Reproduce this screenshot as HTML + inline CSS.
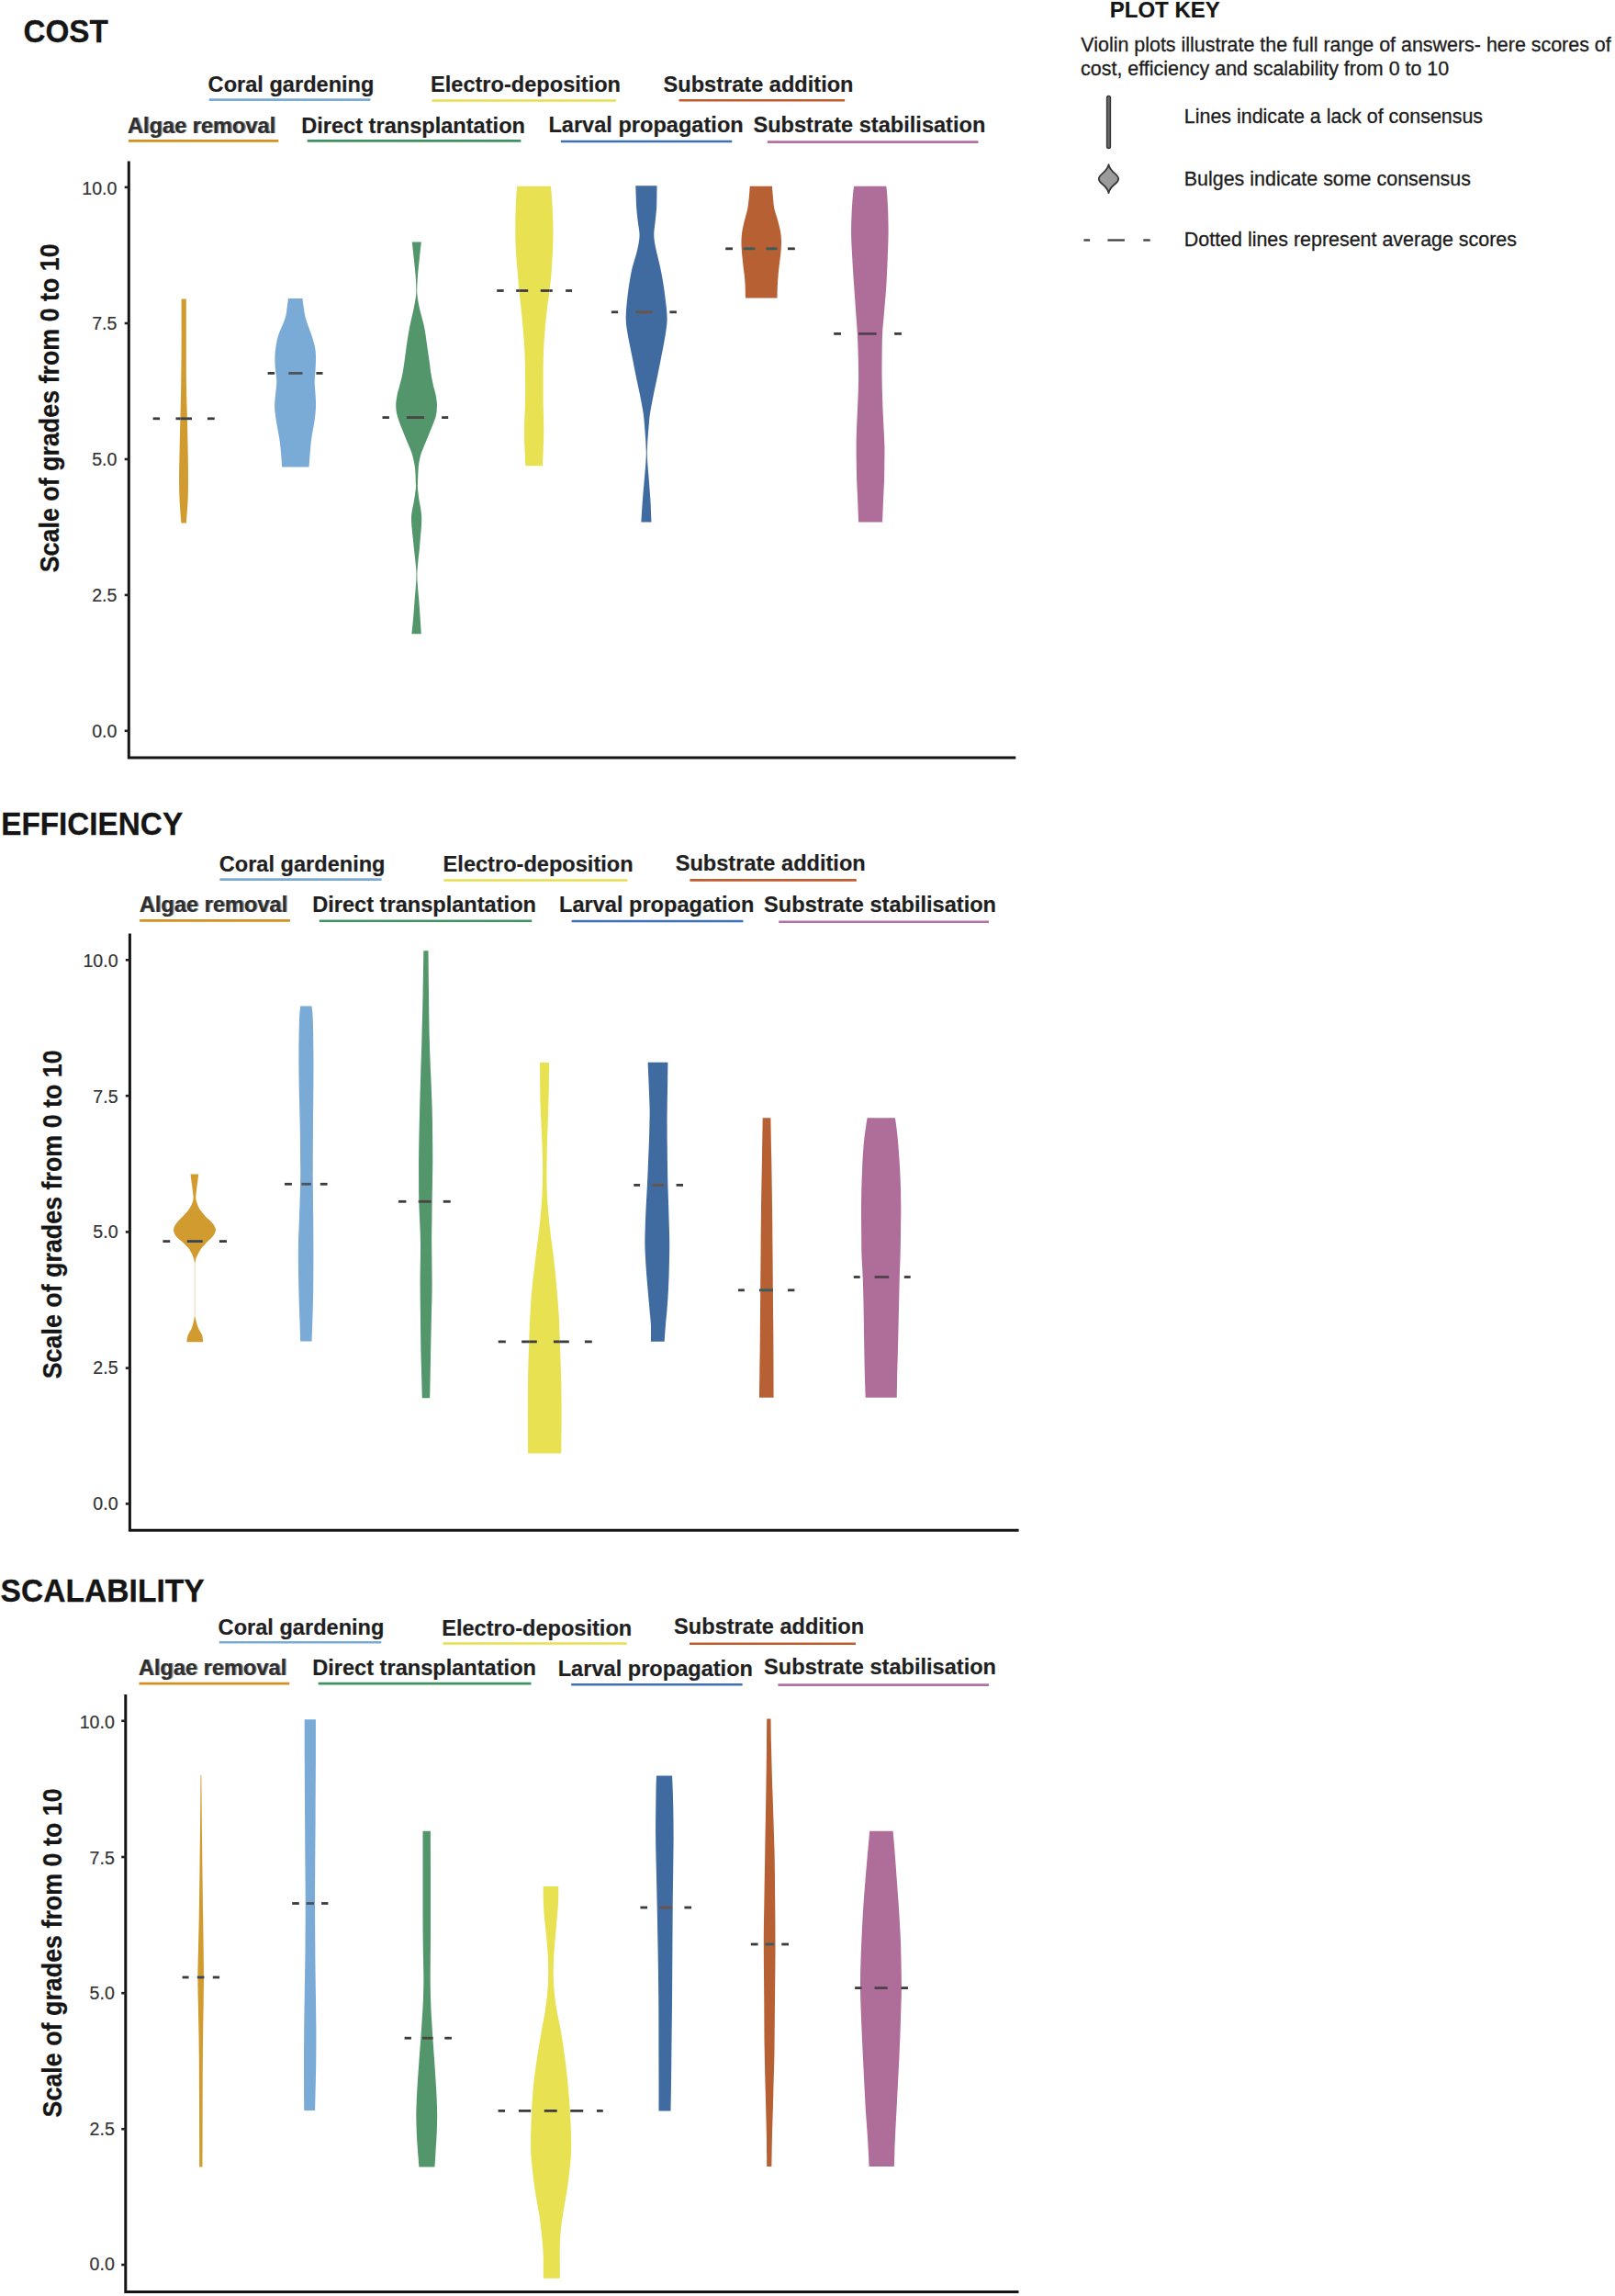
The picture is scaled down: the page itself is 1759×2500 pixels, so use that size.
<!DOCTYPE html>
<html lang="en">
<head>
<meta charset="utf-8">
<title>Violin plots: cost, efficiency and scalability</title>
<style>
html,body{margin:0;padding:0;background:#ffffff;}
body{width:1759px;height:2500px;overflow:hidden;font-family:'Liberation Sans', sans-serif;}
svg text{white-space:pre;}
</style>
</head>
<body>
<svg width="1759" height="2500" viewBox="0 0 1759 2500" style="display:block;font-family:'Liberation Sans', sans-serif">
<rect width="1759" height="2500" fill="#ffffff"/>
<g>
<text transform="translate(25.4 45.9) scale(1 1.035)" font-size="33.30" font-weight="700" fill="#151515" stroke="#151515" stroke-width="0.30">COST</text>
<text transform="translate(226.6 99.6) scale(1 1.035)" font-size="23.60" font-weight="700" fill="#1f1f1f" stroke="#1f1f1f" stroke-width="0.20">Coral gardening</text>
<line x1="227.7" y1="108.6" x2="403.5" y2="108.6" stroke="#7AABD6" stroke-width="2.6"/>
<text transform="translate(469.0 100.3) scale(1 1.035)" font-size="23.60" font-weight="700" fill="#1f1f1f" stroke="#1f1f1f" stroke-width="0.20">Electro-deposition</text>
<line x1="470.4" y1="109.5" x2="671.0" y2="109.5" stroke="#E9DF4E" stroke-width="2.6"/>
<text transform="translate(722.5 99.6) scale(1 1.035)" font-size="23.60" font-weight="700" fill="#1f1f1f" stroke="#1f1f1f" stroke-width="0.20">Substrate addition</text>
<line x1="739.5" y1="109.3" x2="920.1" y2="109.3" stroke="#C25C2E" stroke-width="2.6"/>
<text transform="translate(138.8 144.5) scale(1 1.035)" font-size="23.60" font-weight="700" fill="#2e2e2e" style="text-shadow:1.4px 0.4px 0.6px #909090">Algae removal</text>
<line x1="140.0" y1="153.4" x2="303.3" y2="153.4" stroke="#D3911F" stroke-width="2.6"/>
<text transform="translate(328.2 144.8) scale(1 1.035)" font-size="23.60" font-weight="700" fill="#1f1f1f" stroke="#1f1f1f" stroke-width="0.20">Direct transplantation</text>
<line x1="334.7" y1="153.4" x2="567.4" y2="153.4" stroke="#3F9362" stroke-width="2.6"/>
<text transform="translate(597.4 144.4) scale(1 1.035)" font-size="23.60" font-weight="700" fill="#1f1f1f" stroke="#1f1f1f" stroke-width="0.20">Larval propagation</text>
<line x1="610.8" y1="154.0" x2="797.3" y2="154.0" stroke="#3E70B8" stroke-width="2.6"/>
<text transform="translate(820.4 144.4) scale(1 1.035)" font-size="23.60" font-weight="700" fill="#1f1f1f" stroke="#1f1f1f" stroke-width="0.20">Substrate stabilisation</text>
<line x1="835.8" y1="154.6" x2="1065.5" y2="154.6" stroke="#B56FA5" stroke-width="2.6"/>
<path d="M140.3 175.4 V825.1 H1106.3" fill="none" stroke="#141414" stroke-width="3.0" stroke-linejoin="miter"/>
<line x1="135.7" y1="203.9" x2="140.3" y2="203.9" stroke="#222222" stroke-width="2.6"/>
<text transform="translate(127.4 211.7) scale(1 1.060)" font-size="19.60" text-anchor="end" fill="#333333" stroke="#333333" stroke-width="0.20">10.0</text>
<line x1="135.7" y1="352.0" x2="140.3" y2="352.0" stroke="#222222" stroke-width="2.6"/>
<text transform="translate(127.4 359.2) scale(1 1.060)" font-size="19.60" text-anchor="end" fill="#333333" stroke="#333333" stroke-width="0.20">7.5</text>
<line x1="135.7" y1="500.0" x2="140.3" y2="500.0" stroke="#222222" stroke-width="2.6"/>
<text transform="translate(127.4 507.0) scale(1 1.060)" font-size="19.60" text-anchor="end" fill="#333333" stroke="#333333" stroke-width="0.20">5.0</text>
<line x1="135.7" y1="647.9" x2="140.3" y2="647.9" stroke="#222222" stroke-width="2.6"/>
<text transform="translate(127.4 654.6) scale(1 1.060)" font-size="19.60" text-anchor="end" fill="#333333" stroke="#333333" stroke-width="0.20">2.5</text>
<line x1="135.7" y1="795.8" x2="140.3" y2="795.8" stroke="#222222" stroke-width="2.6"/>
<text transform="translate(127.4 802.5) scale(1 1.060)" font-size="19.60" text-anchor="end" fill="#333333" stroke="#333333" stroke-width="0.20">0.0</text>
<text transform="translate(64.3 444.3) rotate(-90) scale(1 1.070)" font-size="26.85" font-weight="700" text-anchor="middle" fill="#151515" stroke="#151515" stroke-width="0.25">Scale of grades from 0 to 10</text>
<path d="M197.6 325.5 L202.8 325.5 C202.8 334.6 202.8 364.2 202.8 380.0 C202.8 395.8 202.8 407.4 203.0 420.0 C203.2 432.6 203.6 444.1 203.9 455.8 C204.2 467.5 204.4 479.3 204.6 490.0 C204.8 500.7 205.0 510.8 205.0 520.0 C205.0 529.2 204.9 536.8 204.6 545.0 C204.2 553.2 203.2 565.3 202.9 569.4 L197.4 569.4 C197.1 565.3 196.0 553.2 195.6 545.0 C195.2 536.8 195.1 529.2 195.1 520.0 C195.1 510.8 195.4 500.7 195.6 490.0 C195.8 479.3 196.1 467.5 196.4 455.8 C196.7 444.1 197.0 432.6 197.2 420.0 C197.4 407.4 197.5 395.8 197.6 380.0 C197.7 364.2 197.6 334.6 197.6 325.5Z" fill="#D19B2F"/>
<path d="M313.9 325.1 L329.5 325.1 C329.7 326.8 330.2 331.4 330.8 335.0 C331.4 338.6 331.5 341.4 332.9 346.4 C334.3 351.4 337.7 359.7 339.4 365.0 C341.1 370.3 342.2 374.0 343.0 378.0 C343.8 382.0 343.9 385.2 344.0 389.2 C344.1 393.2 343.8 397.7 343.6 402.0 C343.4 406.3 342.7 410.5 342.7 415.2 C342.7 419.9 343.4 425.4 343.6 430.0 C343.8 434.6 344.2 438.3 344.0 443.0 C343.8 447.7 343.4 452.4 342.6 458.0 C341.8 463.6 340.2 470.8 339.4 476.5 C338.6 482.2 338.3 486.6 337.8 492.0 C337.3 497.4 336.8 505.8 336.6 508.6 L307.2 508.6 C307.0 505.8 306.4 497.4 305.9 492.0 C305.4 486.6 305.0 482.2 304.1 476.5 C303.2 470.8 301.6 463.6 300.8 458.0 C300.0 452.4 299.2 447.7 299.1 443.0 C299.0 438.3 299.6 434.6 300.0 430.0 C300.4 425.4 301.3 419.9 301.3 415.2 C301.3 410.5 300.2 406.3 299.9 402.0 C299.6 397.7 299.3 393.2 299.4 389.2 C299.5 385.2 299.8 382.0 300.4 378.0 C301.0 374.0 301.5 370.3 303.2 365.0 C304.9 359.7 309.0 351.4 310.6 346.4 C312.2 341.4 312.1 338.6 312.6 335.0 C313.2 331.4 313.7 326.8 313.9 325.1Z" fill="#7AABD6"/>
<path d="M448.8 263.6 L458.9 263.6 C458.5 266.7 457.4 275.9 456.8 282.0 C456.2 288.1 455.4 294.8 455.0 300.0 C454.6 305.2 454.4 309.3 454.3 313.0 C454.2 316.7 454.2 318.3 454.6 322.0 C455.0 325.7 455.6 329.4 456.8 335.0 C458.0 340.6 460.6 349.0 462.0 355.7 C463.4 362.4 464.1 368.8 465.0 375.0 C465.9 381.2 466.8 387.4 467.6 392.9 C468.4 398.4 468.8 403.4 469.6 408.0 C470.4 412.6 471.4 417.1 472.2 420.8 C473.0 424.5 474.0 426.9 474.6 430.0 C475.2 433.1 475.7 436.5 475.9 439.3 C476.1 442.1 475.9 444.5 475.7 447.0 C475.4 449.5 475.3 451.2 474.4 454.2 C473.5 457.2 471.8 461.3 470.4 465.0 C468.9 468.7 467.1 473.0 465.7 476.5 C464.3 480.0 463.0 482.9 461.8 486.0 C460.6 489.1 459.2 491.8 458.3 495.0 C457.4 498.2 456.7 501.9 456.2 505.0 C455.7 508.1 455.7 510.3 455.5 513.6 C455.3 516.9 455.1 521.9 455.0 525.0 C454.9 528.1 454.7 528.9 455.0 532.2 C455.3 535.5 456.0 541.2 456.6 545.0 C457.2 548.8 458.0 551.9 458.4 555.0 C458.8 558.1 459.1 560.5 459.2 563.8 C459.3 567.1 459.0 571.5 458.8 575.0 C458.6 578.5 458.2 581.3 457.9 585.0 C457.6 588.7 457.3 593.0 456.9 597.2 C456.5 601.4 455.9 606.0 455.5 610.0 C455.1 614.0 454.7 617.7 454.5 621.0 C454.3 624.3 454.3 626.8 454.4 630.0 C454.5 633.2 454.8 635.8 455.1 640.0 C455.4 644.2 456.0 649.7 456.4 655.0 C456.8 660.3 457.2 666.1 457.6 672.0 C458.0 677.9 458.6 687.2 458.8 690.3 L448.4 690.3 C448.7 687.2 449.7 677.9 450.2 672.0 C450.7 666.1 451.1 660.3 451.5 655.0 C451.9 649.7 452.4 644.2 452.7 640.0 C453.0 635.8 453.3 633.2 453.4 630.0 C453.5 626.8 453.5 624.3 453.3 621.0 C453.1 617.7 452.7 614.0 452.3 610.0 C451.9 606.0 451.3 601.4 450.9 597.2 C450.4 593.0 450.0 588.7 449.6 585.0 C449.2 581.3 448.9 578.5 448.6 575.0 C448.3 571.5 447.9 567.1 448.0 563.8 C448.1 560.5 448.5 558.1 449.0 555.0 C449.5 551.9 450.4 548.8 451.0 545.0 C451.6 541.2 452.5 535.5 452.8 532.2 C453.1 528.9 452.9 528.1 452.8 525.0 C452.7 521.9 452.6 516.9 452.3 513.6 C452.1 510.3 451.9 508.1 451.3 505.0 C450.8 501.9 449.9 498.2 449.0 495.0 C448.1 491.8 446.8 489.1 445.6 486.0 C444.4 482.9 443.0 480.0 441.6 476.5 C440.2 473.0 438.4 468.7 437.0 465.0 C435.6 461.3 434.1 457.2 433.2 454.2 C432.3 451.2 431.9 449.5 431.6 447.0 C431.3 444.5 431.1 442.1 431.3 439.3 C431.5 436.5 432.0 433.1 432.6 430.0 C433.2 426.9 434.1 424.5 435.0 420.8 C435.9 417.1 437.3 412.6 438.2 408.0 C439.1 403.4 439.8 398.4 440.6 392.9 C441.4 387.4 442.1 381.2 443.0 375.0 C443.9 368.8 444.9 362.4 446.2 355.7 C447.5 349.0 449.7 340.6 450.8 335.0 C451.9 329.4 452.6 325.7 453.0 322.0 C453.4 318.3 453.4 316.7 453.3 313.0 C453.2 309.3 453.0 305.2 452.6 300.0 C452.2 294.8 451.4 288.1 450.8 282.0 C450.2 275.9 449.1 266.7 448.8 263.6Z" fill="#53966C"/>
<path d="M563.2 202.8 L599.9 202.8 C600.0 204.3 600.5 207.5 600.8 212.0 C601.1 216.5 601.6 222.9 601.9 230.0 C602.2 237.1 602.5 246.8 602.5 254.3 C602.5 261.8 602.3 267.2 601.9 275.0 C601.5 282.8 600.9 293.9 600.3 300.8 C599.7 307.7 599.4 308.8 598.5 316.5 C597.6 324.2 595.8 335.9 594.7 347.2 C593.6 358.5 592.5 370.4 592.0 384.3 C591.5 398.2 591.6 416.9 591.6 430.8 C591.6 444.7 592.3 458.0 592.3 467.9 C592.3 477.8 591.9 483.4 591.7 490.0 C591.5 496.6 591.1 504.4 591.0 507.3 L572.4 507.3 C572.3 504.4 571.8 496.6 571.6 490.0 C571.4 483.4 570.9 477.8 571.0 467.9 C571.1 458.0 572.0 444.7 572.1 430.8 C572.2 416.9 572.1 398.2 571.5 384.3 C570.9 370.4 569.7 358.5 568.7 347.2 C567.7 335.9 566.2 324.2 565.4 316.5 C564.6 308.8 564.7 307.7 564.1 300.8 C563.5 293.9 562.5 282.8 562.0 275.0 C561.5 267.2 561.4 261.8 561.3 254.3 C561.2 246.8 561.4 237.1 561.6 230.0 C561.8 222.9 562.1 216.5 562.4 212.0 C562.7 207.5 563.1 204.3 563.2 202.8Z" fill="#E8E152"/>
<path d="M692.3 202.3 L715.5 202.3 C715.5 203.9 715.5 208.0 715.4 212.0 C715.3 216.0 715.4 221.7 715.1 226.4 C714.8 231.1 714.3 235.3 713.8 240.0 C713.3 244.7 712.4 250.1 712.3 254.3 C712.2 258.5 712.6 261.1 713.2 265.0 C713.8 268.9 715.0 273.6 716.0 278.0 C717.0 282.4 718.2 287.0 719.2 291.5 C720.2 296.0 721.0 300.4 721.8 305.0 C722.6 309.6 723.3 314.6 723.9 319.3 C724.5 324.0 725.1 328.4 725.6 333.0 C726.1 337.6 726.6 342.7 726.6 347.2 C726.6 351.7 726.0 355.4 725.4 360.0 C724.8 364.6 723.9 369.5 722.9 375.0 C721.9 380.5 720.6 386.8 719.4 393.0 C718.2 399.2 716.8 406.0 715.5 412.2 C714.2 418.4 713.0 423.8 711.8 430.0 C710.6 436.2 709.0 443.9 708.1 449.4 C707.2 454.9 707.1 458.7 706.7 463.0 C706.3 467.3 706.0 471.3 705.7 475.0 C705.4 478.7 705.2 482.0 705.1 485.0 C705.0 488.0 704.8 490.3 704.8 493.0 C704.8 495.7 704.9 497.7 705.1 501.0 C705.3 504.3 705.6 508.5 706.0 513.0 C706.4 517.5 706.8 522.5 707.2 528.0 C707.6 533.5 708.1 539.2 708.5 546.0 C708.9 552.8 709.3 564.8 709.5 568.5 L698.4 568.5 C698.6 564.8 699.3 552.8 699.8 546.0 C700.3 539.2 700.8 533.5 701.3 528.0 C701.8 522.5 702.2 517.5 702.6 513.0 C703.0 508.5 703.3 504.3 703.5 501.0 C703.7 497.7 703.8 495.7 703.8 493.0 C703.8 490.3 703.6 488.0 703.5 485.0 C703.4 482.0 703.1 478.7 702.9 475.0 C702.6 471.3 702.4 467.3 702.0 463.0 C701.6 458.7 701.4 454.9 700.6 449.4 C699.8 443.9 698.2 436.2 697.0 430.0 C695.8 423.8 694.5 418.4 693.2 412.2 C691.9 406.0 690.6 399.2 689.4 393.0 C688.2 386.8 686.9 380.5 685.8 375.0 C684.7 369.5 683.7 364.6 683.0 360.0 C682.3 355.4 681.8 351.7 681.7 347.2 C681.6 342.7 682.0 337.6 682.4 333.0 C682.8 328.4 683.3 324.0 683.9 319.3 C684.5 314.6 685.2 309.6 686.0 305.0 C686.8 300.4 687.5 296.0 688.6 291.5 C689.7 287.0 691.4 282.4 692.6 278.0 C693.8 273.6 695.0 268.9 695.6 265.0 C696.2 261.1 696.7 258.5 696.5 254.3 C696.3 250.1 695.1 244.7 694.6 240.0 C694.1 235.3 693.5 231.1 693.2 226.4 C692.9 221.7 692.8 216.0 692.6 212.0 C692.5 208.0 692.3 203.9 692.3 202.3Z" fill="#3F6BA1"/>
<path d="M816.8 202.8 L840.9 202.8 C841.1 204.7 841.5 210.1 841.9 214.0 C842.3 217.9 842.5 222.7 843.2 226.4 C843.9 230.1 845.1 232.9 846.0 236.0 C846.9 239.1 847.7 242.2 848.4 245.0 C849.1 247.8 849.8 250.2 850.2 253.0 C850.6 255.8 850.9 258.5 851.0 261.7 C851.1 264.9 850.9 268.6 850.7 272.0 C850.5 275.4 850.0 278.8 849.6 282.0 C849.2 285.2 848.7 288.5 848.4 291.5 C848.1 294.5 847.9 296.9 847.6 300.0 C847.4 303.1 847.1 305.9 846.9 310.0 C846.7 314.1 846.6 322.1 846.5 324.5 L812.0 324.5 C811.9 322.1 811.8 314.1 811.6 310.0 C811.4 305.9 811.1 303.1 810.8 300.0 C810.5 296.9 810.1 294.5 809.7 291.5 C809.4 288.5 809.0 285.2 808.7 282.0 C808.4 278.8 808.0 275.4 807.8 272.0 C807.6 268.6 807.4 264.9 807.5 261.7 C807.6 258.5 807.8 255.8 808.2 253.0 C808.6 250.2 809.1 247.8 809.7 245.0 C810.3 242.2 811.2 239.1 812.0 236.0 C812.8 232.9 813.8 230.1 814.4 226.4 C815.0 222.7 815.5 217.9 815.9 214.0 C816.3 210.1 816.6 204.7 816.8 202.8Z" fill="#B66034"/>
<path d="M930.1 202.8 L965.4 202.8 C965.5 204.3 965.9 207.5 966.2 212.0 C966.5 216.5 967.0 222.9 967.2 230.0 C967.4 237.1 967.7 246.0 967.6 254.3 C967.5 262.6 967.2 270.7 966.8 280.0 C966.4 289.3 966.0 300.0 965.4 310.0 C964.8 320.0 963.7 331.2 963.0 340.0 C962.3 348.8 961.5 354.7 961.1 363.0 C960.7 371.3 960.7 381.8 960.6 390.0 C960.5 398.2 960.5 405.5 960.6 412.2 C960.7 418.9 960.8 423.8 961.0 430.0 C961.2 436.2 961.4 443.1 961.7 449.4 C962.0 455.7 962.3 461.8 962.6 468.0 C962.9 474.2 963.3 480.3 963.4 486.5 C963.5 492.7 963.4 498.8 963.3 505.0 C963.2 511.2 963.2 517.0 963.0 523.7 C962.8 530.4 962.3 537.5 962.0 545.0 C961.7 552.5 961.2 564.7 961.1 568.6 L935.1 568.6 C935.0 564.7 934.5 552.5 934.2 545.0 C933.9 537.5 933.4 530.4 933.2 523.7 C933.0 517.0 932.9 511.2 932.8 505.0 C932.7 498.8 932.6 492.7 932.6 486.5 C932.6 480.3 932.8 474.2 933.0 468.0 C933.2 461.8 933.5 455.7 933.8 449.4 C934.1 443.1 934.4 436.2 934.6 430.0 C934.8 423.8 935.1 418.9 935.1 412.2 C935.1 405.5 935.0 398.2 934.8 390.0 C934.6 381.8 934.2 371.3 933.8 363.0 C933.4 354.7 932.8 348.8 932.2 340.0 C931.6 331.2 930.8 320.0 930.1 310.0 C929.4 300.0 928.7 289.3 928.2 280.0 C927.7 270.7 927.2 262.6 927.1 254.3 C927.0 246.0 927.4 237.1 927.7 230.0 C928.0 222.9 928.6 216.5 929.0 212.0 C929.4 207.5 929.9 204.3 930.1 202.8Z" fill="#AE6E99"/>
<line x1="166.6" y1="455.8" x2="174.1" y2="455.8" stroke="#3b3b3b" stroke-width="2.8"/>
<line x1="191.5" y1="455.8" x2="196.4" y2="455.8" stroke="#3b3b3b" stroke-width="2.8"/>
<line x1="196.4" y1="455.8" x2="203.9" y2="455.8" stroke="#39445a" stroke-width="2.8"/>
<line x1="203.9" y1="455.8" x2="209.0" y2="455.8" stroke="#3b3b3b" stroke-width="2.8"/>
<line x1="225.9" y1="455.8" x2="233.7" y2="455.8" stroke="#3b3b3b" stroke-width="2.8"/>
<line x1="291.6" y1="406.4" x2="299.1" y2="406.4" stroke="#3b3b3b" stroke-width="2.8"/>
<line x1="314.3" y1="406.4" x2="329.5" y2="406.4" stroke="#4f5258" stroke-width="2.8"/>
<line x1="344.4" y1="406.4" x2="351.5" y2="406.4" stroke="#3b3b3b" stroke-width="2.8"/>
<line x1="416.5" y1="454.6" x2="423.9" y2="454.6" stroke="#3b3b3b" stroke-width="2.8"/>
<line x1="442.9" y1="454.6" x2="462.0" y2="454.6" stroke="#474640" stroke-width="2.8"/>
<line x1="481.1" y1="454.6" x2="488.2" y2="454.6" stroke="#3b3b3b" stroke-width="2.8"/>
<line x1="541.2" y1="316.5" x2="548.7" y2="316.5" stroke="#3b3b3b" stroke-width="2.8"/>
<line x1="562.2" y1="316.5" x2="565.4" y2="316.5" stroke="#3b3b3b" stroke-width="2.8"/>
<line x1="565.4" y1="316.5" x2="575.2" y2="316.5" stroke="#3f3a46" stroke-width="2.8"/>
<line x1="588.8" y1="316.5" x2="598.5" y2="316.5" stroke="#3f3a46" stroke-width="2.8"/>
<line x1="598.5" y1="316.5" x2="601.8" y2="316.5" stroke="#3b3b3b" stroke-width="2.8"/>
<line x1="616.1" y1="316.5" x2="623.0" y2="316.5" stroke="#3b3b3b" stroke-width="2.8"/>
<line x1="665.9" y1="339.8" x2="673.1" y2="339.8" stroke="#3b3b3b" stroke-width="2.8"/>
<line x1="692.3" y1="339.8" x2="710.8" y2="339.8" stroke="#6a5447" stroke-width="2.8"/>
<line x1="729.4" y1="339.8" x2="736.9" y2="339.8" stroke="#3b3b3b" stroke-width="2.8"/>
<line x1="790.2" y1="270.8" x2="798.0" y2="270.8" stroke="#3b3b3b" stroke-width="2.8"/>
<line x1="809.7" y1="270.8" x2="822.4" y2="270.8" stroke="#3a5c60" stroke-width="2.8"/>
<line x1="834.4" y1="270.8" x2="846.5" y2="270.8" stroke="#3a5c60" stroke-width="2.8"/>
<line x1="858.0" y1="270.8" x2="865.8" y2="270.8" stroke="#3b3b3b" stroke-width="2.8"/>
<line x1="908.2" y1="363.4" x2="916.0" y2="363.4" stroke="#3b3b3b" stroke-width="2.8"/>
<line x1="935.1" y1="363.4" x2="954.6" y2="363.4" stroke="#50404e" stroke-width="2.8"/>
<line x1="974.1" y1="363.4" x2="981.9" y2="363.4" stroke="#3b3b3b" stroke-width="2.8"/>
</g>
<g>
<text transform="translate(1.2 909.4) scale(1 1.035)" font-size="33.30" font-weight="700" fill="#151515" stroke="#151515" stroke-width="0.30">EFFICIENCY</text>
<text transform="translate(238.7 948.6) scale(1 1.035)" font-size="23.60" font-weight="700" fill="#1f1f1f" stroke="#1f1f1f" stroke-width="0.20">Coral gardening</text>
<line x1="239.4" y1="957.6" x2="415.6" y2="957.6" stroke="#7AABD6" stroke-width="2.6"/>
<text transform="translate(482.6 949.1) scale(1 1.035)" font-size="23.60" font-weight="700" fill="#1f1f1f" stroke="#1f1f1f" stroke-width="0.20">Electro-deposition</text>
<line x1="483.3" y1="958.5" x2="683.5" y2="958.5" stroke="#E9DF4E" stroke-width="2.6"/>
<text transform="translate(735.7 948.2) scale(1 1.035)" font-size="23.60" font-weight="700" fill="#1f1f1f" stroke="#1f1f1f" stroke-width="0.20">Substrate addition</text>
<line x1="751.4" y1="958.4" x2="932.8" y2="958.4" stroke="#C25C2E" stroke-width="2.6"/>
<text transform="translate(151.7 992.8) scale(1 1.035)" font-size="23.60" font-weight="700" fill="#2e2e2e" style="text-shadow:1.4px 0.4px 0.6px #909090">Algae removal</text>
<line x1="152.1" y1="1002.4" x2="316.0" y2="1002.4" stroke="#D3911F" stroke-width="2.6"/>
<text transform="translate(340.2 992.8) scale(1 1.035)" font-size="23.60" font-weight="700" fill="#1f1f1f" stroke="#1f1f1f" stroke-width="0.20">Direct transplantation</text>
<line x1="347.7" y1="1002.8" x2="579.3" y2="1002.8" stroke="#3F9362" stroke-width="2.6"/>
<text transform="translate(609.0 993.2) scale(1 1.035)" font-size="23.60" font-weight="700" fill="#1f1f1f" stroke="#1f1f1f" stroke-width="0.20">Larval propagation</text>
<line x1="622.6" y1="1003.0" x2="809.4" y2="1003.0" stroke="#3E70B8" stroke-width="2.6"/>
<text transform="translate(832.1 992.8) scale(1 1.035)" font-size="23.60" font-weight="700" fill="#1f1f1f" stroke="#1f1f1f" stroke-width="0.20">Substrate stabilisation</text>
<line x1="848.2" y1="1003.8" x2="1077.0" y2="1003.8" stroke="#B56FA5" stroke-width="2.6"/>
<path d="M141.4 1016.6 V1666.3 H1109.6" fill="none" stroke="#141414" stroke-width="3.0" stroke-linejoin="miter"/>
<line x1="136.8" y1="1045.3" x2="141.4" y2="1045.3" stroke="#222222" stroke-width="2.6"/>
<text transform="translate(128.6 1053.4) scale(1 1.060)" font-size="19.60" text-anchor="end" fill="#333333" stroke="#333333" stroke-width="0.20">10.0</text>
<line x1="136.8" y1="1193.2" x2="141.4" y2="1193.2" stroke="#222222" stroke-width="2.6"/>
<text transform="translate(128.6 1200.5) scale(1 1.060)" font-size="19.60" text-anchor="end" fill="#333333" stroke="#333333" stroke-width="0.20">7.5</text>
<line x1="136.8" y1="1341.4" x2="141.4" y2="1341.4" stroke="#222222" stroke-width="2.6"/>
<text transform="translate(128.6 1348.4) scale(1 1.060)" font-size="19.60" text-anchor="end" fill="#333333" stroke="#333333" stroke-width="0.20">5.0</text>
<line x1="136.8" y1="1489.6" x2="141.4" y2="1489.6" stroke="#222222" stroke-width="2.6"/>
<text transform="translate(128.6 1496.3) scale(1 1.060)" font-size="19.60" text-anchor="end" fill="#333333" stroke="#333333" stroke-width="0.20">2.5</text>
<line x1="136.8" y1="1637.4" x2="141.4" y2="1637.4" stroke="#222222" stroke-width="2.6"/>
<text transform="translate(128.6 1644.3) scale(1 1.060)" font-size="19.60" text-anchor="end" fill="#333333" stroke="#333333" stroke-width="0.20">0.0</text>
<text transform="translate(66.6 1322.3) rotate(-90) scale(1 1.070)" font-size="26.85" font-weight="700" text-anchor="middle" fill="#151515" stroke="#151515" stroke-width="0.25">Scale of grades from 0 to 10</text>
<path d="M207.5 1278.6 L216.2 1278.6 C216.0 1280.0 215.6 1284.1 215.2 1287.0 C214.8 1289.9 214.3 1293.1 214.0 1296.0 C213.7 1298.9 213.2 1302.3 213.3 1304.6 C213.4 1306.9 214.0 1308.2 214.6 1310.0 C215.2 1311.8 216.1 1314.0 217.0 1315.7 C217.9 1317.4 219.1 1318.5 220.2 1320.0 C221.3 1321.5 222.6 1323.1 223.8 1324.4 C225.0 1325.7 226.3 1326.8 227.6 1328.0 C228.8 1329.2 230.3 1330.5 231.3 1331.8 C232.3 1333.0 233.2 1334.2 233.8 1335.5 C234.4 1336.8 235.0 1338.0 235.0 1339.3 C235.0 1340.5 234.4 1341.8 233.8 1343.0 C233.2 1344.2 232.6 1345.3 231.3 1346.7 C230.1 1348.1 227.7 1350.1 226.3 1351.6 C224.9 1353.1 223.9 1354.2 222.8 1355.5 C221.7 1356.8 220.5 1357.8 219.5 1359.1 C218.5 1360.3 217.7 1361.8 217.0 1363.0 C216.3 1364.2 215.8 1365.2 215.2 1366.5 C214.6 1367.8 213.6 1369.5 213.2 1371.0 C212.8 1372.5 212.6 1374.5 212.5 1375.2 L211.9 1375.2 C211.8 1374.5 211.6 1372.5 211.2 1371.0 C210.8 1369.5 210.2 1367.8 209.6 1366.5 C209.0 1365.2 208.5 1364.2 207.8 1363.0 C207.1 1361.8 206.3 1360.3 205.3 1359.1 C204.3 1357.8 203.1 1356.8 201.8 1355.5 C200.6 1354.2 199.4 1353.1 197.8 1351.6 C196.2 1350.1 193.6 1348.1 192.3 1346.7 C191.0 1345.3 190.6 1344.2 190.0 1343.0 C189.4 1341.8 188.9 1340.5 188.9 1339.3 C188.9 1338.0 189.4 1336.8 190.0 1335.5 C190.6 1334.2 191.4 1333.0 192.3 1331.8 C193.2 1330.5 194.5 1329.2 195.6 1328.0 C196.7 1326.8 197.8 1325.7 199.1 1324.4 C200.4 1323.1 202.0 1321.5 203.2 1320.0 C204.4 1318.5 205.5 1317.4 206.5 1315.7 C207.5 1314.0 208.7 1311.8 209.4 1310.0 C210.1 1308.2 210.5 1306.9 210.6 1304.6 C210.7 1302.3 210.1 1298.9 209.8 1296.0 C209.5 1293.1 209.0 1289.9 208.6 1287.0 C208.2 1284.1 207.7 1280.0 207.5 1278.6Z" fill="#D19B2F"/>
<path d="M211.9 1433.4 L212.5 1433.4 C212.8 1434.5 213.4 1437.9 214.0 1440.0 C214.6 1442.1 215.1 1444.1 215.8 1445.8 C216.5 1447.5 217.3 1448.8 218.0 1450.0 C218.7 1451.2 219.4 1452.0 219.9 1453.2 C220.4 1454.4 220.6 1455.7 220.8 1457.0 C221.0 1458.3 221.1 1460.5 221.1 1461.2 L203.4 1461.2 C203.5 1460.5 203.6 1458.3 203.9 1457.0 C204.2 1455.7 204.5 1454.4 205.0 1453.2 C205.5 1452.0 206.1 1451.2 206.8 1450.0 C207.5 1448.8 208.4 1447.5 209.0 1445.8 C209.6 1444.1 210.1 1442.1 210.6 1440.0 C211.1 1437.9 211.7 1434.5 211.9 1433.4Z" fill="#D19B2F"/>
<line x1="212.2" y1="1375.0" x2="212.2" y2="1433.6" stroke="#E9DEC3" stroke-width="1.1"/>
<path d="M327.2 1095.6 L339.6 1095.6 C339.8 1098.1 340.5 1102.4 340.8 1110.6 C341.1 1118.8 341.3 1133.3 341.4 1144.6 C341.5 1155.9 341.5 1165.3 341.4 1178.5 C341.3 1191.7 341.1 1208.7 341.0 1223.8 C340.9 1238.9 340.8 1258.1 340.8 1269.1 C340.8 1280.0 340.7 1280.0 340.8 1289.5 C340.9 1299.0 341.1 1314.1 341.2 1325.8 C341.3 1337.5 341.4 1346.5 341.4 1359.7 C341.4 1372.9 341.4 1391.8 341.2 1405.0 C341.0 1418.2 340.6 1429.8 340.3 1439.0 C340.0 1448.2 339.7 1456.9 339.6 1460.5 L327.2 1460.5 C327.1 1456.9 326.8 1448.2 326.5 1439.0 C326.2 1429.8 325.7 1418.2 325.4 1405.0 C325.1 1391.8 324.8 1372.9 324.9 1359.7 C325.0 1346.5 325.6 1337.5 326.0 1325.8 C326.4 1314.1 326.9 1299.0 327.1 1289.5 C327.3 1280.0 327.3 1280.0 327.2 1269.1 C327.1 1258.1 327.0 1238.9 326.7 1223.8 C326.4 1208.7 325.8 1191.7 325.6 1178.5 C325.4 1165.3 325.3 1155.9 325.4 1144.6 C325.5 1133.3 325.7 1118.8 326.0 1110.6 C326.3 1102.4 327.0 1098.1 327.2 1095.6Z" fill="#7AABD6"/>
<path d="M461.3 1035.2 L466.5 1035.2 C466.6 1042.7 466.8 1064.0 467.0 1080.0 C467.2 1096.0 467.4 1116.5 467.8 1131.5 C468.2 1146.5 468.7 1157.6 469.2 1170.0 C469.7 1182.4 470.3 1195.0 470.6 1205.8 C470.9 1216.6 471.0 1225.7 471.1 1235.0 C471.2 1244.3 471.3 1253.2 471.3 1261.5 C471.3 1269.8 471.1 1277.2 471.0 1285.0 C470.9 1292.8 470.7 1300.5 470.6 1308.0 C470.5 1315.5 470.5 1322.3 470.4 1330.0 C470.3 1337.7 470.2 1342.7 470.2 1354.4 C470.2 1366.1 470.7 1386.1 470.6 1400.0 C470.5 1413.9 470.1 1425.6 469.8 1438.0 C469.6 1450.4 469.3 1464.0 469.1 1474.3 C468.9 1484.6 468.8 1492.0 468.6 1500.0 C468.5 1508.0 468.3 1518.5 468.2 1522.2 L459.8 1522.2 C459.7 1518.5 459.4 1508.0 459.2 1500.0 C459.0 1492.0 458.7 1484.6 458.5 1474.3 C458.3 1464.0 458.1 1450.4 458.0 1438.0 C457.9 1425.6 457.6 1413.9 457.6 1400.0 C457.6 1386.1 458.1 1366.1 458.0 1354.4 C457.9 1342.7 457.5 1337.7 457.2 1330.0 C456.9 1322.3 456.5 1315.5 456.3 1308.0 C456.1 1300.5 456.1 1292.8 456.1 1285.0 C456.1 1277.2 456.0 1269.8 456.1 1261.5 C456.2 1253.2 456.3 1244.3 456.5 1235.0 C456.7 1225.7 456.9 1216.6 457.2 1205.8 C457.5 1195.0 457.8 1182.4 458.2 1170.0 C458.6 1157.6 459.0 1146.5 459.4 1131.5 C459.8 1116.5 460.3 1096.0 460.6 1080.0 C460.9 1064.0 461.2 1042.7 461.3 1035.2Z" fill="#53966C"/>
<path d="M588.1 1157.1 L598.2 1157.1 C598.2 1160.9 598.0 1172.8 597.9 1180.0 C597.8 1187.2 597.6 1193.3 597.4 1200.0 C597.2 1206.7 597.0 1213.3 596.8 1220.0 C596.6 1226.7 596.2 1233.3 596.0 1240.0 C595.8 1246.7 595.7 1253.3 595.6 1260.0 C595.5 1266.7 595.4 1273.3 595.4 1280.0 C595.4 1286.7 595.5 1293.3 595.8 1300.0 C596.1 1306.7 596.6 1313.3 597.2 1320.0 C597.8 1326.7 598.4 1333.3 599.2 1340.0 C600.0 1346.7 601.0 1353.3 601.8 1360.0 C602.6 1366.7 603.5 1373.2 604.2 1380.0 C604.9 1386.8 605.5 1392.1 606.2 1400.5 C606.9 1408.9 608.0 1420.6 608.6 1430.6 C609.2 1440.6 609.4 1448.9 609.8 1460.6 C610.2 1472.3 610.9 1487.3 611.2 1500.7 C611.5 1514.1 611.6 1527.2 611.6 1540.8 C611.6 1554.4 611.4 1575.6 611.4 1582.6 L575.1 1582.6 C575.1 1575.6 574.9 1554.4 574.9 1540.8 C574.9 1527.2 574.9 1514.1 575.1 1500.7 C575.3 1487.3 575.9 1472.3 576.3 1460.6 C576.7 1448.9 576.9 1440.6 577.5 1430.6 C578.1 1420.6 578.9 1408.9 579.7 1400.5 C580.5 1392.1 581.3 1386.8 582.1 1380.0 C582.9 1373.2 583.7 1366.7 584.5 1360.0 C585.3 1353.3 586.3 1346.7 587.1 1340.0 C587.9 1333.3 588.5 1326.7 589.1 1320.0 C589.7 1313.3 590.2 1306.7 590.5 1300.0 C590.8 1293.3 591.0 1286.7 591.1 1280.0 C591.2 1273.3 591.0 1266.7 590.9 1260.0 C590.8 1253.3 590.6 1246.7 590.3 1240.0 C590.0 1233.3 589.6 1226.7 589.3 1220.0 C589.0 1213.3 588.7 1206.7 588.5 1200.0 C588.3 1193.3 588.3 1187.2 588.2 1180.0 C588.1 1172.8 588.1 1160.9 588.1 1157.1Z" fill="#E8E152"/>
<path d="M705.6 1156.7 L727.4 1156.7 C727.4 1159.8 727.3 1166.7 727.2 1175.0 C727.1 1183.3 726.8 1198.4 726.7 1206.7 C726.6 1215.0 726.6 1218.8 726.6 1225.0 C726.6 1231.2 726.6 1236.6 726.7 1243.8 C726.8 1251.0 726.9 1260.2 727.0 1268.0 C727.1 1275.8 727.2 1283.1 727.4 1290.9 C727.6 1298.7 728.0 1307.7 728.2 1315.0 C728.4 1322.3 728.6 1328.3 728.8 1335.0 C729.0 1341.7 729.2 1347.8 729.2 1355.3 C729.2 1362.8 729.0 1371.8 728.8 1380.0 C728.6 1388.2 728.3 1397.3 727.9 1404.8 C727.5 1412.3 727.1 1418.8 726.6 1425.0 C726.1 1431.2 725.5 1436.0 725.0 1442.0 C724.5 1448.0 723.9 1457.7 723.7 1460.8 L708.9 1460.8 C708.9 1457.7 709.1 1448.0 708.9 1442.0 C708.6 1436.0 707.9 1431.2 707.4 1425.0 C706.9 1418.8 706.2 1412.3 705.6 1404.8 C705.0 1397.3 704.1 1388.2 703.6 1380.0 C703.1 1371.8 702.5 1362.8 702.4 1355.3 C702.3 1347.8 702.6 1341.7 702.8 1335.0 C703.0 1328.3 703.2 1322.3 703.6 1315.0 C704.0 1307.7 704.5 1298.7 704.9 1290.9 C705.3 1283.1 705.6 1275.8 705.9 1268.0 C706.2 1260.2 706.6 1251.0 706.9 1243.8 C707.1 1236.6 707.3 1231.2 707.4 1225.0 C707.5 1218.8 707.8 1215.0 707.6 1206.7 C707.4 1198.4 706.7 1183.3 706.4 1175.0 C706.1 1166.7 705.7 1159.8 705.6 1156.7Z" fill="#3F6BA1"/>
<path d="M830.7 1217.3 L839.4 1217.3 C839.5 1224.4 839.9 1243.2 840.2 1260.0 C840.5 1276.8 840.9 1301.4 841.1 1318.1 C841.3 1334.8 841.4 1345.5 841.5 1360.0 C841.6 1374.5 841.8 1391.5 841.9 1404.8 C842.0 1418.1 842.1 1429.7 842.2 1440.0 C842.3 1450.3 842.4 1457.5 842.4 1466.7 C842.4 1475.9 842.5 1485.8 842.5 1495.0 C842.5 1504.2 842.6 1517.2 842.6 1521.7 L827.0 1521.7 C827.0 1517.2 827.2 1504.2 827.3 1495.0 C827.4 1485.8 827.6 1475.9 827.7 1466.7 C827.8 1457.5 827.8 1450.3 827.9 1440.0 C828.0 1429.7 828.1 1418.1 828.2 1404.8 C828.3 1391.5 828.5 1374.5 828.6 1360.0 C828.7 1345.5 828.8 1334.8 829.0 1318.1 C829.2 1301.4 829.7 1276.8 830.0 1260.0 C830.3 1243.2 830.6 1224.4 830.7 1217.3Z" fill="#B66034"/>
<path d="M944.6 1217.3 L974.9 1217.3 C975.1 1218.8 975.7 1221.6 976.2 1226.0 C976.7 1230.4 977.5 1236.5 978.1 1243.8 C978.7 1251.1 979.5 1261.5 980.0 1270.0 C980.5 1278.5 980.8 1287.0 981.0 1295.0 C981.2 1303.0 981.3 1309.8 981.3 1318.1 C981.3 1326.4 981.1 1336.7 981.0 1345.0 C980.9 1353.3 980.8 1360.1 980.6 1367.7 C980.4 1375.3 980.0 1382.6 979.8 1390.5 C979.6 1398.4 979.4 1406.4 979.2 1415.0 C979.0 1423.6 978.8 1433.2 978.6 1442.0 C978.4 1450.8 978.2 1459.8 978.0 1468.0 C977.8 1476.2 977.5 1484.8 977.3 1491.5 C977.1 1498.2 977.1 1503.0 977.0 1508.0 C976.9 1513.0 976.8 1519.4 976.8 1521.7 L942.7 1521.7 C942.6 1519.4 942.4 1513.0 942.2 1508.0 C942.0 1503.0 941.9 1498.2 941.7 1491.5 C941.6 1484.8 941.4 1476.2 941.3 1468.0 C941.2 1459.8 941.0 1450.8 940.9 1442.0 C940.8 1433.2 940.6 1423.6 940.4 1415.0 C940.2 1406.4 940.0 1398.4 939.7 1390.5 C939.4 1382.6 938.8 1375.3 938.5 1367.7 C938.2 1360.1 938.3 1353.3 938.2 1345.0 C938.1 1336.7 938.0 1326.4 938.0 1318.1 C938.0 1309.8 938.1 1303.0 938.3 1295.0 C938.5 1287.0 938.8 1278.5 939.2 1270.0 C939.6 1261.5 940.2 1251.1 940.9 1243.8 C941.6 1236.5 942.6 1230.4 943.2 1226.0 C943.8 1221.6 944.4 1218.8 944.6 1217.3Z" fill="#AE6E99"/>
<line x1="177.4" y1="1351.6" x2="185.2" y2="1351.6" stroke="#3b3b3b" stroke-width="2.8"/>
<line x1="203.8" y1="1351.6" x2="220.7" y2="1351.6" stroke="#39445a" stroke-width="2.8"/>
<line x1="238.9" y1="1351.6" x2="247.0" y2="1351.6" stroke="#3b3b3b" stroke-width="2.8"/>
<line x1="310.0" y1="1289.3" x2="317.9" y2="1289.3" stroke="#3b3b3b" stroke-width="2.8"/>
<line x1="328.4" y1="1289.3" x2="338.8" y2="1289.3" stroke="#4f5258" stroke-width="2.8"/>
<line x1="348.8" y1="1289.3" x2="356.6" y2="1289.3" stroke="#3b3b3b" stroke-width="2.8"/>
<line x1="434.0" y1="1308.3" x2="442.4" y2="1308.3" stroke="#3b3b3b" stroke-width="2.8"/>
<line x1="455.7" y1="1308.3" x2="456.3" y2="1308.3" stroke="#3b3b3b" stroke-width="2.8"/>
<line x1="456.3" y1="1308.3" x2="469.7" y2="1308.3" stroke="#474640" stroke-width="2.8"/>
<line x1="482.7" y1="1308.3" x2="490.7" y2="1308.3" stroke="#3b3b3b" stroke-width="2.8"/>
<line x1="542.7" y1="1460.9" x2="550.8" y2="1460.9" stroke="#3b3b3b" stroke-width="2.8"/>
<line x1="568.1" y1="1460.9" x2="576.3" y2="1460.9" stroke="#3b3b3b" stroke-width="2.8"/>
<line x1="576.3" y1="1460.9" x2="584.8" y2="1460.9" stroke="#3f3a46" stroke-width="2.8"/>
<line x1="602.9" y1="1460.9" x2="609.8" y2="1460.9" stroke="#3f3a46" stroke-width="2.8"/>
<line x1="609.8" y1="1460.9" x2="619.8" y2="1460.9" stroke="#3b3b3b" stroke-width="2.8"/>
<line x1="636.9" y1="1460.9" x2="644.8" y2="1460.9" stroke="#3b3b3b" stroke-width="2.8"/>
<line x1="690.3" y1="1290.4" x2="697.0" y2="1290.4" stroke="#3b3b3b" stroke-width="2.8"/>
<line x1="710.6" y1="1290.4" x2="723.0" y2="1290.4" stroke="#6a5447" stroke-width="2.8"/>
<line x1="736.6" y1="1290.4" x2="744.0" y2="1290.4" stroke="#3b3b3b" stroke-width="2.8"/>
<line x1="804.0" y1="1404.8" x2="810.9" y2="1404.8" stroke="#3b3b3b" stroke-width="2.8"/>
<line x1="827.0" y1="1404.8" x2="828.2" y2="1404.8" stroke="#3b3b3b" stroke-width="2.8"/>
<line x1="828.2" y1="1404.8" x2="841.9" y2="1404.8" stroke="#3a5c60" stroke-width="2.8"/>
<line x1="858.0" y1="1404.8" x2="865.4" y2="1404.8" stroke="#3b3b3b" stroke-width="2.8"/>
<line x1="929.8" y1="1390.5" x2="936.7" y2="1390.5" stroke="#3b3b3b" stroke-width="2.8"/>
<line x1="952.6" y1="1390.5" x2="968.2" y2="1390.5" stroke="#50404e" stroke-width="2.8"/>
<line x1="984.8" y1="1390.5" x2="991.7" y2="1390.5" stroke="#3b3b3b" stroke-width="2.8"/>
</g>
<g>
<text transform="translate(0.6 1744.2) scale(1 1.035)" font-size="33.60" font-weight="700" fill="#151515" stroke="#151515" stroke-width="0.30">SCALABILITY</text>
<text transform="translate(237.6 1779.6) scale(1 1.035)" font-size="23.60" font-weight="700" fill="#1f1f1f" stroke="#1f1f1f" stroke-width="0.20">Coral gardening</text>
<line x1="238.7" y1="1788.3" x2="415.3" y2="1788.3" stroke="#7AABD6" stroke-width="2.6"/>
<text transform="translate(481.2 1780.7) scale(1 1.035)" font-size="23.60" font-weight="700" fill="#1f1f1f" stroke="#1f1f1f" stroke-width="0.20">Electro-deposition</text>
<line x1="482.5" y1="1789.5" x2="682.7" y2="1789.5" stroke="#E9DF4E" stroke-width="2.6"/>
<text transform="translate(734.1 1779.2) scale(1 1.035)" font-size="23.60" font-weight="700" fill="#1f1f1f" stroke="#1f1f1f" stroke-width="0.20">Substrate addition</text>
<line x1="751.0" y1="1789.7" x2="932.0" y2="1789.7" stroke="#C25C2E" stroke-width="2.6"/>
<text transform="translate(150.7 1823.7) scale(1 1.035)" font-size="23.60" font-weight="700" fill="#2e2e2e" style="text-shadow:1.4px 0.4px 0.6px #909090">Algae removal</text>
<line x1="151.5" y1="1833.1" x2="315.3" y2="1833.1" stroke="#D3911F" stroke-width="2.6"/>
<text transform="translate(340.2 1823.7) scale(1 1.035)" font-size="23.60" font-weight="700" fill="#1f1f1f" stroke="#1f1f1f" stroke-width="0.20">Direct transplantation</text>
<line x1="346.7" y1="1833.1" x2="578.5" y2="1833.1" stroke="#3F9362" stroke-width="2.6"/>
<text transform="translate(607.7 1824.8) scale(1 1.035)" font-size="23.60" font-weight="700" fill="#1f1f1f" stroke="#1f1f1f" stroke-width="0.20">Larval propagation</text>
<line x1="622.2" y1="1834.2" x2="808.6" y2="1834.2" stroke="#3E70B8" stroke-width="2.6"/>
<text transform="translate(832.1 1823.4) scale(1 1.035)" font-size="23.60" font-weight="700" fill="#1f1f1f" stroke="#1f1f1f" stroke-width="0.20">Substrate stabilisation</text>
<line x1="847.4" y1="1834.6" x2="1077.0" y2="1834.6" stroke="#B56FA5" stroke-width="2.6"/>
<path d="M136.8 1845.0 V2495.5 H1109.5" fill="none" stroke="#141414" stroke-width="3.0" stroke-linejoin="miter"/>
<line x1="132.2" y1="1873.8" x2="136.8" y2="1873.8" stroke="#222222" stroke-width="2.6"/>
<text transform="translate(124.8 1882.0) scale(1 1.060)" font-size="19.60" text-anchor="end" fill="#333333" stroke="#333333" stroke-width="0.20">10.0</text>
<line x1="132.2" y1="2022.0" x2="136.8" y2="2022.0" stroke="#222222" stroke-width="2.6"/>
<text transform="translate(124.8 2029.7) scale(1 1.060)" font-size="19.60" text-anchor="end" fill="#333333" stroke="#333333" stroke-width="0.20">7.5</text>
<line x1="132.2" y1="2170.2" x2="136.8" y2="2170.2" stroke="#222222" stroke-width="2.6"/>
<text transform="translate(124.8 2177.3) scale(1 1.060)" font-size="19.60" text-anchor="end" fill="#333333" stroke="#333333" stroke-width="0.20">5.0</text>
<line x1="132.2" y1="2318.2" x2="136.8" y2="2318.2" stroke="#222222" stroke-width="2.6"/>
<text transform="translate(124.8 2324.9) scale(1 1.060)" font-size="19.60" text-anchor="end" fill="#333333" stroke="#333333" stroke-width="0.20">2.5</text>
<line x1="132.2" y1="2466.0" x2="136.8" y2="2466.0" stroke="#222222" stroke-width="2.6"/>
<text transform="translate(124.8 2472.2) scale(1 1.060)" font-size="19.60" text-anchor="end" fill="#333333" stroke="#333333" stroke-width="0.20">0.0</text>
<text transform="translate(66.6 2126.4) rotate(-90) scale(1 1.070)" font-size="26.85" font-weight="700" text-anchor="middle" fill="#151515" stroke="#151515" stroke-width="0.25">Scale of grades from 0 to 10</text>
<path d="M218.5 1932.9 L219.3 1932.9 C219.4 1937.4 219.5 1948.8 219.6 1960.0 C219.7 1971.2 219.8 1985.2 220.0 2000.0 C220.2 2014.8 220.4 2034.0 220.6 2049.0 C220.8 2064.0 221.0 2077.3 221.2 2090.0 C221.4 2102.7 221.6 2114.5 221.7 2125.0 C221.8 2135.5 222.0 2143.8 222.0 2153.0 C222.0 2162.2 221.8 2170.5 221.7 2180.0 C221.6 2189.5 221.3 2200.3 221.2 2210.0 C221.1 2219.7 221.0 2226.3 220.9 2238.0 C220.8 2249.7 220.8 2266.3 220.7 2280.0 C220.6 2293.7 220.6 2306.7 220.6 2320.0 C220.6 2333.3 220.5 2353.0 220.5 2359.6 L217.2 2359.6 C217.2 2353.0 217.1 2333.3 217.1 2320.0 C217.1 2306.7 217.1 2293.7 217.0 2280.0 C216.9 2266.3 216.9 2249.7 216.8 2238.0 C216.7 2226.3 216.6 2219.7 216.4 2210.0 C216.2 2200.3 216.0 2189.5 215.8 2180.0 C215.6 2170.5 215.4 2162.2 215.4 2153.0 C215.4 2143.8 215.7 2135.5 215.9 2125.0 C216.1 2114.5 216.5 2102.7 216.7 2090.0 C216.9 2077.3 217.1 2064.0 217.3 2049.0 C217.5 2034.0 217.7 2014.8 217.9 2000.0 C218.1 1985.2 218.2 1971.2 218.3 1960.0 C218.4 1948.8 218.5 1937.4 218.5 1932.9Z" fill="#D19B2F"/>
<path d="M331.7 1872.2 L343.9 1872.2 C343.9 1880.2 343.9 1902.0 343.9 1920.0 C343.8 1938.0 343.7 1960.0 343.6 1980.0 C343.5 2000.0 343.3 2024.0 343.2 2040.0 C343.1 2056.0 343.1 2062.7 343.1 2076.0 C343.1 2089.3 343.2 2104.3 343.3 2120.0 C343.4 2135.7 343.7 2154.8 343.9 2170.0 C344.1 2185.2 344.3 2197.7 344.4 2211.0 C344.4 2224.3 344.4 2235.5 344.2 2250.0 C344.0 2264.5 343.3 2290.0 343.1 2298.0 L331.2 2298.0 C331.2 2290.0 331.0 2264.5 331.0 2250.0 C331.0 2235.5 331.1 2224.3 331.2 2211.0 C331.3 2197.7 331.6 2185.2 331.8 2170.0 C332.0 2154.8 332.4 2135.7 332.5 2120.0 C332.6 2104.3 332.7 2089.3 332.7 2076.0 C332.7 2062.7 332.6 2056.0 332.5 2040.0 C332.4 2024.0 332.2 2000.0 332.1 1980.0 C332.0 1960.0 331.9 1938.0 331.8 1920.0 C331.7 1902.0 331.7 1880.2 331.7 1872.2Z" fill="#7AABD6"/>
<path d="M460.5 1993.7 L468.9 1993.7 C468.9 2001.4 469.0 2021.8 469.0 2040.0 C469.0 2058.2 469.0 2087.2 469.0 2103.0 C469.0 2118.8 468.9 2126.0 468.8 2135.0 C468.8 2144.0 468.6 2149.5 468.7 2157.0 C468.8 2164.5 468.9 2172.8 469.2 2180.0 C469.4 2187.2 469.8 2193.5 470.2 2200.0 C470.6 2206.5 470.9 2212.2 471.4 2219.2 C471.9 2226.2 472.4 2233.9 473.0 2242.0 C473.6 2250.1 474.2 2260.7 474.7 2268.0 C475.1 2275.3 475.4 2280.2 475.7 2286.0 C475.9 2291.8 476.2 2297.3 476.2 2303.0 C476.2 2308.7 476.0 2314.5 475.8 2320.0 C475.6 2325.5 475.2 2331.3 474.9 2336.0 C474.6 2340.7 474.4 2344.1 474.2 2348.0 C474.0 2351.9 473.6 2357.7 473.5 2359.6 L456.5 2359.6 C456.3 2357.7 455.8 2351.9 455.5 2348.0 C455.2 2344.1 454.9 2340.7 454.6 2336.0 C454.3 2331.3 453.9 2325.5 453.7 2320.0 C453.5 2314.5 453.3 2308.7 453.3 2303.0 C453.3 2297.3 453.6 2291.8 453.8 2286.0 C454.1 2280.2 454.3 2275.3 454.8 2268.0 C455.3 2260.7 456.0 2250.1 456.6 2242.0 C457.2 2233.9 457.8 2226.2 458.3 2219.2 C458.8 2212.2 459.2 2206.5 459.6 2200.0 C460.0 2193.5 460.5 2187.2 460.8 2180.0 C461.1 2172.8 461.3 2164.5 461.4 2157.0 C461.4 2149.5 461.2 2144.0 461.1 2135.0 C461.0 2126.0 460.7 2118.8 460.6 2103.0 C460.5 2087.2 460.5 2058.2 460.5 2040.0 C460.5 2021.8 460.5 2001.4 460.5 1993.7Z" fill="#53966C"/>
<path d="M591.7 2054.1 L608.2 2054.1 C608.2 2056.8 608.4 2064.0 608.1 2070.0 C607.8 2076.0 607.2 2083.3 606.6 2090.0 C606.0 2096.7 605.4 2103.3 604.8 2110.0 C604.2 2116.7 603.6 2123.3 603.2 2130.0 C602.9 2136.7 602.6 2143.3 602.7 2150.0 C602.8 2156.7 603.1 2163.3 603.8 2170.0 C604.4 2176.7 605.5 2183.3 606.6 2190.0 C607.7 2196.7 609.2 2201.7 610.6 2210.0 C612.0 2218.3 613.9 2230.0 615.2 2240.0 C616.5 2250.0 617.7 2260.2 618.6 2270.0 C619.5 2279.8 620.2 2288.4 620.8 2298.5 C621.4 2308.6 622.1 2321.9 622.2 2330.6 C622.3 2339.3 622.3 2342.2 621.6 2350.6 C620.9 2358.9 619.6 2370.7 618.2 2380.7 C616.8 2390.7 614.5 2402.3 613.2 2410.7 C611.9 2419.0 611.2 2424.1 610.6 2430.8 C610.0 2437.5 609.8 2444.9 609.7 2450.8 C609.6 2456.7 609.8 2461.0 609.8 2466.0 C609.8 2471.0 609.8 2478.2 609.8 2480.7 L591.8 2480.7 C591.8 2478.2 591.8 2471.0 591.8 2466.0 C591.8 2461.0 591.9 2456.7 591.5 2450.8 C591.1 2444.9 590.4 2437.5 589.7 2430.8 C589.0 2424.1 588.4 2419.0 587.1 2410.7 C585.8 2402.3 583.5 2390.7 582.1 2380.7 C580.7 2370.7 579.4 2358.9 578.7 2350.6 C578.0 2342.2 578.0 2339.3 578.1 2330.6 C578.2 2321.9 578.6 2308.6 579.1 2298.5 C579.6 2288.4 580.1 2279.8 581.1 2270.0 C582.1 2260.2 583.6 2250.0 585.1 2240.0 C586.6 2230.0 588.7 2218.3 590.1 2210.0 C591.5 2201.7 592.7 2196.7 593.7 2190.0 C594.7 2183.3 595.6 2176.7 596.2 2170.0 C596.8 2163.3 597.1 2156.7 597.2 2150.0 C597.3 2143.3 597.1 2136.7 596.8 2130.0 C596.5 2123.3 595.8 2116.7 595.2 2110.0 C594.6 2103.3 593.7 2096.7 593.1 2090.0 C592.5 2083.3 592.0 2076.0 591.8 2070.0 C591.6 2064.0 591.7 2056.8 591.7 2054.1Z" fill="#E8E152"/>
<path d="M715.0 1933.4 L732.1 1933.4 C732.2 1936.2 732.6 1943.1 732.8 1950.0 C733.0 1956.9 733.3 1966.8 733.4 1975.0 C733.5 1983.2 733.6 1989.3 733.6 1999.3 C733.6 2009.3 733.4 2022.1 733.2 2035.0 C733.1 2047.9 732.8 2062.5 732.7 2076.7 C732.6 2090.9 732.5 2104.5 732.4 2120.0 C732.3 2135.5 732.2 2153.8 732.1 2169.6 C732.0 2185.4 731.8 2199.5 731.6 2215.0 C731.4 2230.5 731.3 2248.6 731.1 2262.5 C730.9 2276.4 730.6 2292.4 730.5 2298.4 L717.5 2298.4 C717.5 2292.4 717.5 2276.4 717.5 2262.5 C717.5 2248.6 717.4 2230.5 717.4 2215.0 C717.4 2199.5 717.4 2185.4 717.2 2169.6 C717.1 2153.8 716.8 2135.5 716.5 2120.0 C716.2 2104.5 716.0 2090.9 715.7 2076.7 C715.4 2062.5 715.1 2047.9 714.8 2035.0 C714.5 2022.1 714.2 2009.3 714.1 1999.3 C714.0 1989.3 714.1 1983.2 714.2 1975.0 C714.3 1966.8 714.4 1956.9 714.5 1950.0 C714.6 1943.1 714.9 1936.2 715.0 1933.4Z" fill="#3F6BA1"/>
<path d="M835.2 1871.5 L839.5 1871.5 C839.6 1876.2 839.7 1886.9 840.0 1900.0 C840.3 1913.1 840.8 1930.9 841.4 1950.0 C842.0 1969.1 843.0 1994.8 843.5 2014.8 C844.0 2034.8 844.0 2053.0 844.2 2070.0 C844.4 2087.0 844.5 2100.3 844.5 2117.0 C844.5 2133.7 844.3 2150.9 844.1 2170.0 C843.9 2189.1 843.8 2213.2 843.5 2231.5 C843.2 2249.8 842.7 2264.5 842.3 2280.0 C841.9 2295.5 841.3 2313.6 841.0 2324.4 C840.7 2335.2 840.7 2339.2 840.6 2345.0 C840.5 2350.8 840.4 2356.7 840.4 2359.0 L835.2 2359.0 C835.2 2356.7 835.2 2350.8 835.1 2345.0 C835.0 2339.2 835.1 2335.2 834.9 2324.4 C834.7 2313.6 834.2 2295.5 833.8 2280.0 C833.4 2264.5 833.0 2249.8 832.7 2231.5 C832.4 2213.2 832.4 2189.1 832.2 2170.0 C832.1 2150.9 831.8 2133.7 831.8 2117.0 C831.8 2100.3 832.1 2087.0 832.4 2070.0 C832.6 2053.0 833.0 2034.8 833.3 2014.8 C833.6 1994.8 834.1 1969.1 834.4 1950.0 C834.7 1930.9 834.9 1913.1 835.0 1900.0 C835.1 1886.9 835.2 1876.2 835.2 1871.5Z" fill="#B66034"/>
<path d="M947.2 1993.7 L972.6 1993.7 C972.8 1995.6 973.2 1999.8 973.6 2005.0 C974.0 2010.2 974.7 2018.2 975.2 2025.0 C975.7 2031.8 976.1 2037.5 976.7 2045.8 C977.3 2054.1 978.1 2064.7 978.8 2075.0 C979.5 2085.3 980.2 2097.7 980.7 2107.7 C981.2 2117.7 981.3 2125.4 981.5 2135.0 C981.7 2144.6 982.0 2155.0 981.9 2165.0 C981.8 2175.0 981.5 2183.9 981.1 2195.0 C980.8 2206.1 980.3 2220.3 979.8 2231.5 C979.3 2242.7 978.8 2251.7 978.3 2262.0 C977.8 2272.3 977.2 2283.0 976.7 2293.4 C976.2 2303.8 975.5 2316.3 975.1 2324.4 C974.7 2332.5 974.6 2336.2 974.4 2342.0 C974.2 2347.8 974.0 2356.2 973.9 2359.0 L946.6 2359.0 C946.5 2356.2 946.1 2347.8 945.8 2342.0 C945.5 2336.2 945.3 2332.5 944.8 2324.4 C944.3 2316.3 943.2 2303.8 942.6 2293.4 C942.0 2283.0 941.5 2272.3 941.0 2262.0 C940.5 2251.7 940.0 2242.7 939.5 2231.5 C939.0 2220.3 938.3 2206.1 937.9 2195.0 C937.5 2183.9 937.1 2175.0 937.0 2165.0 C936.9 2155.0 937.2 2144.6 937.5 2135.0 C937.8 2125.4 938.1 2117.7 938.6 2107.7 C939.1 2097.7 939.7 2085.3 940.4 2075.0 C941.1 2064.7 941.9 2054.1 942.6 2045.8 C943.3 2037.5 943.8 2031.8 944.4 2025.0 C945.0 2018.2 945.7 2010.2 946.2 2005.0 C946.7 1999.8 947.0 1995.6 947.2 1993.7Z" fill="#AE6E99"/>
<line x1="198.6" y1="2153.0" x2="205.6" y2="2153.0" stroke="#3b3b3b" stroke-width="2.8"/>
<line x1="214.8" y1="2153.0" x2="222.4" y2="2153.0" stroke="#39445a" stroke-width="2.8"/>
<line x1="231.8" y1="2153.0" x2="239.1" y2="2153.0" stroke="#3b3b3b" stroke-width="2.8"/>
<line x1="318.2" y1="2072.5" x2="325.8" y2="2072.5" stroke="#3b3b3b" stroke-width="2.8"/>
<line x1="333.6" y1="2072.5" x2="342.0" y2="2072.5" stroke="#4f5258" stroke-width="2.8"/>
<line x1="350.1" y1="2072.5" x2="357.4" y2="2072.5" stroke="#3b3b3b" stroke-width="2.8"/>
<line x1="440.6" y1="2219.2" x2="447.9" y2="2219.2" stroke="#3b3b3b" stroke-width="2.8"/>
<line x1="460.0" y1="2219.2" x2="471.6" y2="2219.2" stroke="#474640" stroke-width="2.8"/>
<line x1="484.3" y1="2219.2" x2="491.9" y2="2219.2" stroke="#3b3b3b" stroke-width="2.8"/>
<line x1="542.6" y1="2298.4" x2="550.0" y2="2298.4" stroke="#3b3b3b" stroke-width="2.8"/>
<line x1="564.9" y1="2298.4" x2="578.2" y2="2298.4" stroke="#3b3b3b" stroke-width="2.8"/>
<line x1="592.8" y1="2298.4" x2="606.7" y2="2298.4" stroke="#3f3a46" stroke-width="2.8"/>
<line x1="621.2" y1="2298.4" x2="635.2" y2="2298.4" stroke="#3b3b3b" stroke-width="2.8"/>
<line x1="650.0" y1="2298.4" x2="656.8" y2="2298.4" stroke="#3b3b3b" stroke-width="2.8"/>
<line x1="697.4" y1="2077.0" x2="705.1" y2="2077.0" stroke="#3b3b3b" stroke-width="2.8"/>
<line x1="718.1" y1="2077.0" x2="732.1" y2="2077.0" stroke="#6a5447" stroke-width="2.8"/>
<line x1="745.4" y1="2077.0" x2="753.1" y2="2077.0" stroke="#3b3b3b" stroke-width="2.8"/>
<line x1="817.8" y1="2117.0" x2="825.6" y2="2117.0" stroke="#3b3b3b" stroke-width="2.8"/>
<line x1="833.6" y1="2117.0" x2="842.9" y2="2117.0" stroke="#3a5c60" stroke-width="2.8"/>
<line x1="851.3" y1="2117.0" x2="859.0" y2="2117.0" stroke="#3b3b3b" stroke-width="2.8"/>
<line x1="931.1" y1="2164.6" x2="937.0" y2="2164.6" stroke="#3b3b3b" stroke-width="2.8"/>
<line x1="937.0" y1="2164.6" x2="938.6" y2="2164.6" stroke="#50404e" stroke-width="2.8"/>
<line x1="952.5" y1="2164.6" x2="966.7" y2="2164.6" stroke="#50404e" stroke-width="2.8"/>
<line x1="981.3" y1="2164.6" x2="981.9" y2="2164.6" stroke="#50404e" stroke-width="2.8"/>
<line x1="981.9" y1="2164.6" x2="989.0" y2="2164.6" stroke="#3b3b3b" stroke-width="2.8"/>
</g>
<g>
<text transform="translate(1208.8 19.2) scale(1 1.035)" font-size="24.00" font-weight="700" fill="#151515" stroke="#151515" stroke-width="0.20">PLOT KEY</text>
<text transform="translate(1177.3 56.2) scale(1 1.035)" font-size="21.45" fill="#1c1c1c" stroke="#1c1c1c" stroke-width="0.30">Violin plots illustrate the full range of answers- here scores of</text>
<text transform="translate(1177.1 82.2) scale(1 1.035)" font-size="21.45" fill="#1c1c1c" stroke="#1c1c1c" stroke-width="0.30">cost, efficiency and scalability from 0 to 10</text>
<text transform="translate(1289.8 134.4) scale(1 1.035)" font-size="21.45" fill="#1c1c1c" stroke="#1c1c1c" stroke-width="0.30">Lines indicate a lack of consensus</text>
<text transform="translate(1289.8 201.6) scale(1 1.035)" font-size="21.45" fill="#1c1c1c" stroke="#1c1c1c" stroke-width="0.30">Bulges indicate some consensus</text>
<text transform="translate(1289.8 267.9) scale(1 1.035)" font-size="21.45" fill="#1c1c1c" stroke="#1c1c1c" stroke-width="0.30">Dotted lines represent average scores</text>
<line x1="1207.5" y1="106.3" x2="1207.5" y2="159.6" stroke="#383838" stroke-width="5.3" stroke-linecap="round"/>
<line x1="1207.5" y1="106.3" x2="1207.5" y2="159.6" stroke="#6c6c6c" stroke-width="2.3" stroke-linecap="round"/>
<path d="M1207.5 179.2 C1208.8 187.7 1218.2 189.3 1218.2 194.7 C1218.2 200.1 1208.8 201.7 1207.5 210.2 C1206.2 201.7 1196.8 200.1 1196.8 194.7 C1196.8 189.3 1206.2 187.7 1207.5 179.2 Z" fill="#9b9b9b" stroke="#363636" stroke-width="1.8" stroke-linejoin="round"/>
<line x1="1180.4" y1="261.5" x2="1187.1" y2="261.5" stroke="#3f3f3f" stroke-width="2.3"/>
<line x1="1206.4" y1="261.5" x2="1224.9" y2="261.5" stroke="#3f3f3f" stroke-width="2.3"/>
<line x1="1245.3" y1="261.5" x2="1252.7" y2="261.5" stroke="#3f3f3f" stroke-width="2.3"/>
</g>
</svg>
</body>
</html>
